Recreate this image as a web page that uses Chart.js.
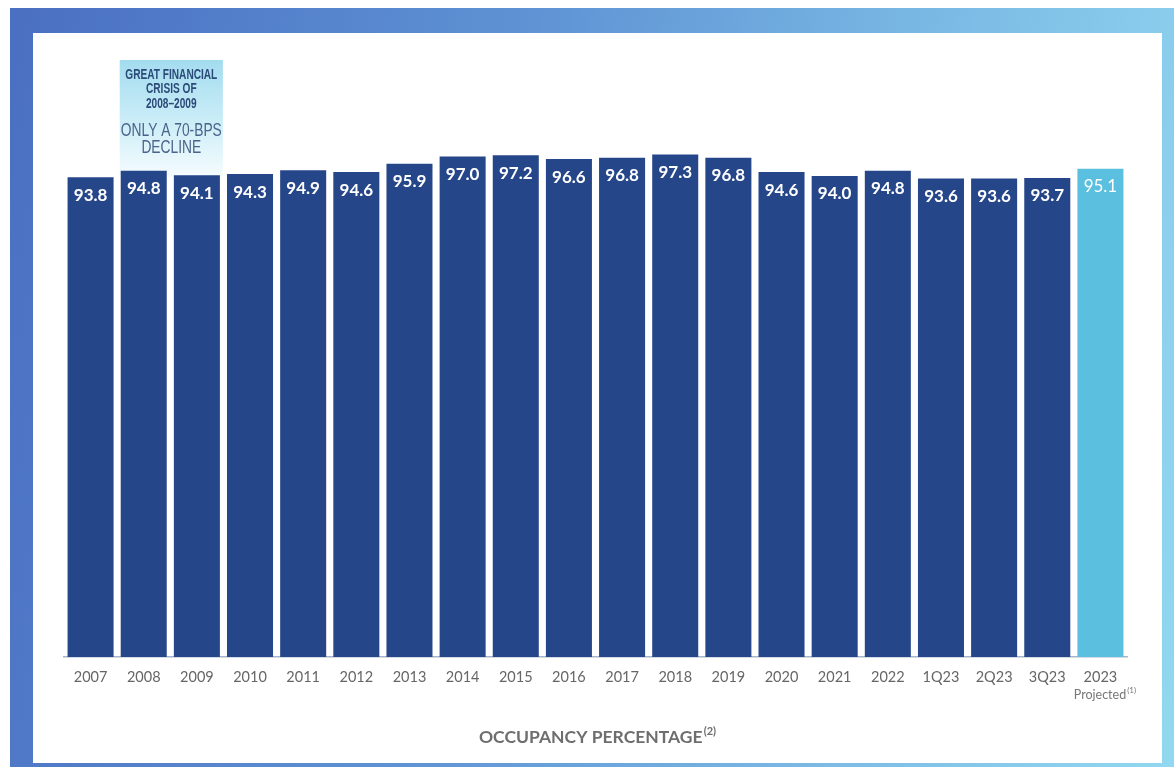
<!DOCTYPE html>
<html lang="en">
<head>
  <meta charset="UTF-8">
  <title>Occupancy Percentage</title>
  <script src="https://cdn.jsdelivr.net/npm/chart.js"></script>
  <style>
    body { margin: 0; background: #fff; }
    #wrap { position: relative; width: 1174px; height: 767px; overflow: hidden; }
    .frame {
      position: absolute; left: 10px; top: 8px; right: 0; bottom: 0;
      background: linear-gradient(100deg, #4a6fc2 0%, #5e92d4 40%, #7dbde6 75%, #92d8f0 100%);
    }
    .panel {
      position: absolute; left: 33px; top: 33px; width: 1129px; height: 730px;
      background: #fff;
    }
    #occChart { position: absolute; left: 0; top: 0; }
  </style>
</head>
<body>
<div id="wrap">
  <div class="frame"></div>
  <div class="panel"></div>
  <canvas id="occChart" width="1174" height="767"></canvas>
</div>
<script>
  // years / quarters on the x axis
  const periods = ['2007', '2008', '2009', '2010', '2011', '2012', '2013', '2014', '2015', '2016',
                   '2017', '2018', '2019', '2020', '2021', '2022', '1Q23', '2Q23', '3Q23', '2023'];
  // occupancy %, last one is the projection
  const occupancy = [93.8, 94.8, 94.1, 94.3, 94.9, 94.6, 95.9, 97.0, 97.2, 96.6,
                     96.8, 97.3, 96.8, 94.6, 94.0, 94.8, 93.6, 93.6, 93.7, 95.1];
  const projectedIndex = 19;
  const noteHead = ['GREAT FINANCIAL', 'CRISIS OF', '2008–2009'];
  const noteBody = ['ONLY A 70-BPS', 'DECLINE'];

  const NAVY = '#26468a';
  const LIGHT = '#5bbfe0';

  // value labels inside the top of each bar
  const barLabels = {
    id: 'barLabels',
    afterDatasetsDraw(chart) {
      const ctx = chart.ctx;
      const meta = chart.getDatasetMeta(0);
      ctx.save();
      ctx.fillStyle = '#ffffff';
      ctx.textAlign = 'center';
      ctx.textBaseline = 'middle';
      meta.data.forEach((bar, i) => {
        ctx.font = (i === projectedIndex ? '' : 'bold ') + '17px Lato';
        ctx.fillText(occupancy[i].toFixed(1), bar.x, bar.y + 18);
      });
      ctx.restore();
    }
  };

  // condensed text: squeeze a normal face horizontally
  function narrowText(ctx, text, x, y, k) {
    ctx.save();
    ctx.translate(x, y);
    ctx.scale(k, 1);
    ctx.fillText(text, 0, 0);
    ctx.restore();
  }

  // shaded note above the 2008-2009 bars
  const crisisNote = {
    id: 'crisisNote',
    beforeDatasetsDraw(chart) {
      const ctx = chart.ctx;
      const meta = chart.getDatasetMeta(0);
      const b1 = meta.data[1], b2 = meta.data[2];
      const left = b1.x - b1.width / 2 - 1;
      const right = b2.x + b2.width / 2 + 3;
      const top = 60;
      const bottom = b2.y + 2;
      const g = ctx.createLinearGradient(0, top, 0, bottom);
      g.addColorStop(0, '#a3dcef');
      g.addColorStop(0.55, '#cdeef8');
      g.addColorStop(1, '#f6fcfe');
      ctx.save();
      ctx.fillStyle = g;
      ctx.fillRect(left, top, right - left, bottom - top);
      const cx = (left + right) / 2;
      ctx.textAlign = 'center';
      ctx.textBaseline = 'middle';

      ctx.fillStyle = '#2c4a78';
      ctx.font = 'bold 14px "Liberation Sans"';
      let k = 92 / ctx.measureText(noteHead[0]).width;
      noteHead.forEach((t, i) => narrowText(ctx, t, cx, top + 15 + i * 14.5, k));

      ctx.fillStyle = '#4a6389';
      ctx.font = '19px "Liberation Sans"';
      k = 101 / ctx.measureText(noteBody[0]).width;
      noteBody.forEach((t, i) => narrowText(ctx, t, cx, top + 71 + i * 17, k));
      ctx.restore();
    }
  };

  // "Projected(1)" note under the last tick and the chart title at the bottom
  const footerText = {
    id: 'footerText',
    afterDraw(chart) {
      const ctx = chart.ctx;
      const xScale = chart.scales.x;
      ctx.save();
      ctx.textBaseline = 'middle';
      ctx.textAlign = 'left';

      const px = xScale.getPixelForValue(projectedIndex) + 4;
      ctx.fillStyle = '#777';
      ctx.font = '12.5px Lato';
      const w1 = ctx.measureText('Projected').width;
      ctx.font = '8px Lato';
      const w2 = ctx.measureText('(1)').width;
      let x = px - (w1 + w2) / 2;
      ctx.font = '12.5px Lato';
      ctx.fillText('Projected', x, 695);
      ctx.font = '8px Lato';
      ctx.fillText('(1)', x + w1 + 1, 690);

      ctx.fillStyle = '#6e6e6e';
      ctx.font = 'bold 17.5px Lato';
      const t1 = 'OCCUPANCY PERCENTAGE';
      const tw = ctx.measureText(t1).width;
      ctx.font = 'bold 11px Lato';
      const sw = ctx.measureText('(2)').width;
      x = 597 - (tw + sw) / 2;
      ctx.font = 'bold 17.5px Lato';
      ctx.fillText(t1, x, 737);
      ctx.font = 'bold 11px Lato';
      ctx.fillText('(2)', x + tw + 1, 731);
      ctx.restore();
    }
  };

  const ctx = document.getElementById('occChart').getContext('2d');
  new Chart(ctx, {
    type: 'bar',
    data: {
      labels: periods,
      datasets: [{
        data: occupancy,
        backgroundColor: occupancy.map((v, i) => i === projectedIndex ? LIGHT : NAVY),
        borderWidth: 0,
        barPercentage: 0.866,
        categoryPercentage: 1.0
      }]
    },
    options: {
      responsive: false,
      animation: false,
      layout: { padding: { left: 64, right: 47, top: 137, bottom: 0 } },
      plugins: {
        legend: { display: false },
        tooltip: { enabled: false }
      },
      scales: {
        y: {
          display: false,
          min: 20,
          max: 100
        },
        x: {
          grid: { display: false, drawTicks: false },
          border: { display: true, color: '#a9b6c8', width: 1.5 },
          ticks: {
            color: '#666',
            font: { family: 'Lato', size: 14.5 },
            padding: 12,
            maxRotation: 0,
            autoSkip: false
          },
          afterFit(scale) { scale.height = 110; }
        }
      }
    },
    plugins: [crisisNote, barLabels, footerText]
  });
</script>
</body>
</html>
